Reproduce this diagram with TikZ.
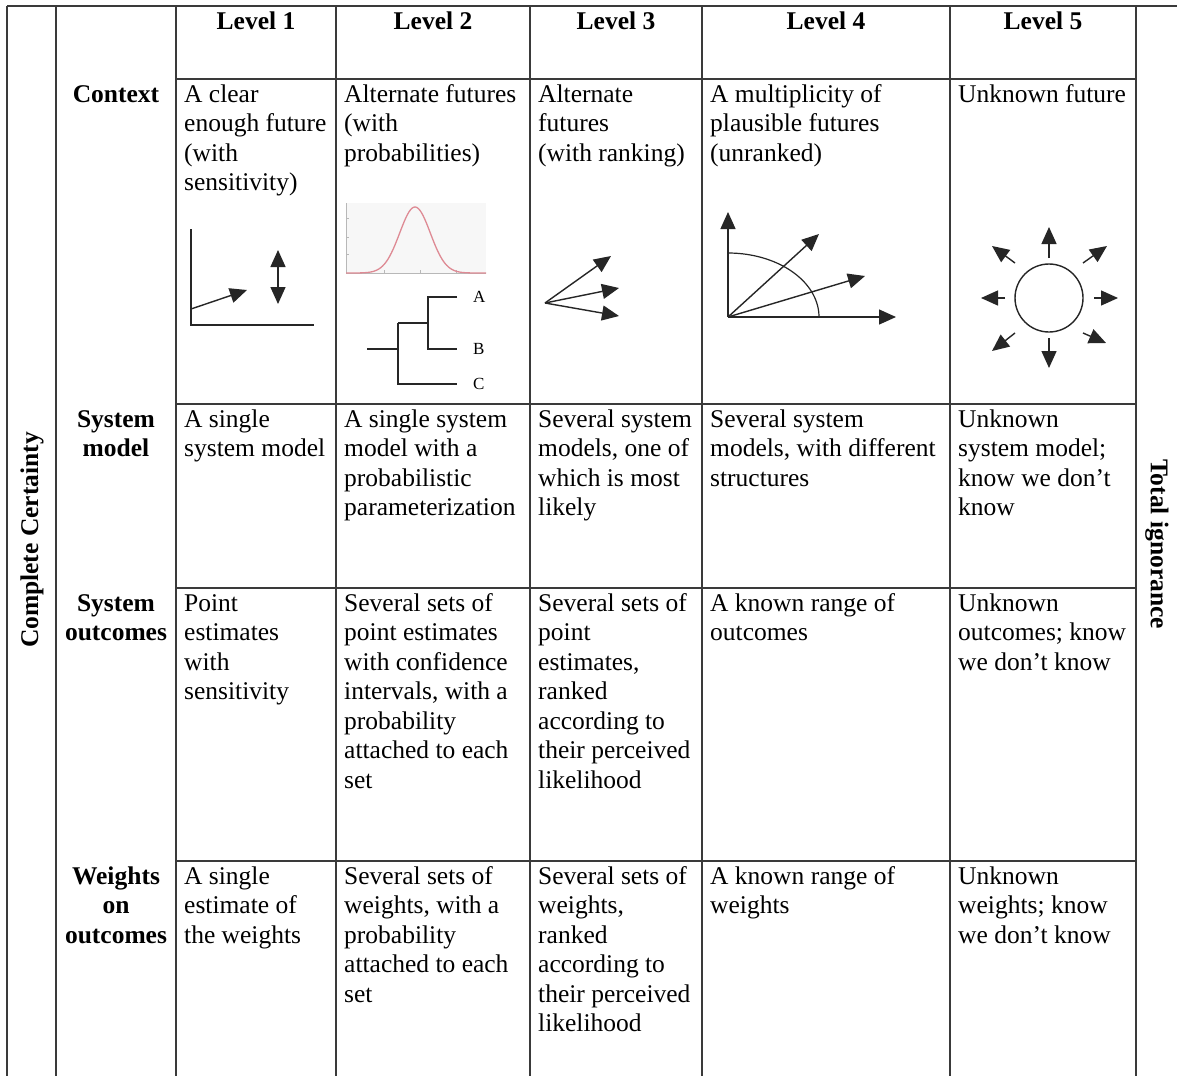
\documentclass[tikz,border=0pt]{standalone}
\usepackage{fontspec}
\setmainfont{Liberation Serif}
\usetikzlibrary{arrows.meta,calc}
\definecolor{rulegray}{HTML}{3A3A3A}
\definecolor{bellred}{HTML}{DE8A94}
\definecolor{plotaxis}{HTML}{B8B8B8}
\definecolor{plotbg}{HTML}{F7F7F7}
\begin{document}
\begin{tikzpicture}[x=1pt,y=-1pt,
  rule/.style={draw=rulegray,line width=1.5pt},
  txt/.style={font=\fontsize{25.5}{29.5}\selectfont},
  head/.style={txt,font=\fontsize{25.5}{29.5}\selectfont\bfseries,anchor=base,inner sep=0pt},
  rowlab/.style={head,align=center,text width=116pt},
  cell/.style={txt,anchor=base west,align=flush left,inner sep=0pt,text width=#1},
  cell/.default=150pt,
  side/.style={font=\fontsize{25.5}{29.5}\selectfont\bfseries,inner sep=0pt},
  icon/.style={draw=black!85,line width=1.4pt},
  arr/.style={icon,-{Triangle[length=17pt,width=15pt]}},
  darr/.style={icon,{Triangle[length=17pt,width=15pt]}-{Triangle[length=17pt,width=15pt]}},
  tree/.style={draw=black!85,line width=1.3pt},
  leaf/.style={font=\fontsize{17}{19}\selectfont,anchor=west,inner sep=0pt}]
\useasboundingbox (0,0) rectangle (1177,1076);
\fill[white] (0,0) rectangle (1177,1076);

% table rules
\draw[rule] (7,6) -- (1177,6);
\foreach \x in {7,56,176,336,530,702,950,1136}
  \draw[rule] (\x,6) -- (\x,1076);
\foreach \y in {79,404,588,861}
  \draw[rule] (176,\y) -- (1136,\y);

% side captions
\node[side,rotate=90] (certain) at (32,540) {Complete Certainty};
\node[side,rotate=-90] (ignorance) at (1157,544) {Total ignorance};

% column heads
\node[head] (lv1) at (256,29) {Level 1};
\node[head] (lv2) at (433,29) {Level 2};
\node[head] (lv3) at (616,29) {Level 3};
\node[head] (lv4) at (826,29) {Level 4};
\node[head] (lv5) at (1043,29) {Level 5};

% row heads
\node[rowlab] (rContext) at (116,102) {Context};
\node[rowlab] (rModel) at (116,427) {System\\model};
\node[rowlab] (rOut) at (116,611) {System\\outcomes};
\node[rowlab] (rWeight) at (116,884) {Weights\\on\\outcomes};

% context row
\node[cell=148pt] (c11) at (184,102) {A clear\\enough future\\(with\\sensitivity)};
\node[cell=182pt] (c12) at (344,102) {Alternate futures\\(with\\probabilities)};
\node[cell=160pt] (c13) at (538,102) {Alternate\\futures\\(with ranking)};
\node[cell=236pt] (c14) at (710,102) {A multiplicity of\\plausible futures\\(unranked)};
\node[cell=176pt] (c15) at (958,102) {Unknown future};

% system model row
\node[cell=148pt] (c21) at (184,427) {A single\\system model};
\node[cell=182pt] (c22) at (344,427) {A single system\\model with a\\probabilistic\\parameterization};
\node[cell=160pt] (c23) at (538,427) {Several system\\models, one of\\which is most\\likely};
\node[cell=236pt] (c24) at (710,427) {Several system\\models, with different\\structures};
\node[cell=176pt] (c25) at (958,427) {Unknown\\system model;\\know we don’t\\know};

% system outcomes row
\node[cell=148pt] (c31) at (184,611) {Point\\estimates\\with\\sensitivity};
\node[cell=182pt] (c32) at (344,611) {Several sets of\\point estimates\\with confidence\\intervals, with a\\probability\\attached to each\\set};
\node[cell=160pt] (c33) at (538,611) {Several sets of\\point\\estimates,\\ranked\\according to\\their perceived\\likelihood};
\node[cell=236pt] (c34) at (710,611) {A known range of\\outcomes};
\node[cell=176pt] (c35) at (958,611) {Unknown\\outcomes; know\\we don’t know};

% weights row
\node[cell=148pt] (c41) at (184,884) {A single\\estimate of\\the weights};
\node[cell=182pt] (c42) at (344,884) {Several sets of\\weights, with a\\probability\\attached to each\\set};
\node[cell=160pt] (c43) at (538,884) {Several sets of\\weights,\\ranked\\according to\\their perceived\\likelihood};
\node[cell=236pt] (c44) at (710,884) {A known range of\\weights};
\node[cell=176pt] (c45) at (958,884) {Unknown\\weights; know\\we don’t know};

% level 1: trend with sensitivity
\coordinate (a1o) at (191,229);
\coordinate (a1c) at (191,325);
\coordinate (a1x) at (314,325);
\draw[icon] (a1o) -- (a1c) -- (a1x);
\coordinate (t1s) at (191,309);
\coordinate (t1e) at (247,290);
\draw[arr] (t1s) -- (t1e);
\coordinate (s1t) at (278,250);
\coordinate (s1b) at (278,304);
\draw[darr] (s1b) -- (s1t);

% level 2: probability curve
\fill[plotbg] (346,203) rectangle (486,273);
\draw[plotaxis,line width=0.9pt] (346,203) -- (346,273) -- (486,273);
\foreach \ty in {218,237,254} \draw[plotaxis,line width=0.6pt] (346,\ty) -- (349,\ty);
\foreach \tx in {384,420,456} \draw[plotaxis,line width=0.6pt] (\tx,273) -- (\tx,270);
\draw[bellred,line width=1.3pt] plot[domain=346:486,samples=90,smooth]
  (\x,{273-66*exp(-((\x-415)*(\x-415))/468)});

% level 2: scenario tree
\coordinate (tr0) at (367,349);
\coordinate (tr1) at (398,349);
\coordinate (tr1u) at (398,323);
\coordinate (tr1d) at (398,384);
\coordinate (tr2) at (428,323);
\coordinate (tr2u) at (428,297);
\coordinate (tr2d) at (428,349);
\coordinate (eA) at (457,297);
\coordinate (eB) at (457,349);
\coordinate (eC) at (457,384);
\node[leaf] (lA) at (473,297) {A};
\node[leaf] (lB) at (473,349) {B};
\node[leaf] (lC) at (473,384) {C};
\draw[tree] (tr0) -- (tr1);
\draw[tree] (tr1u) -- (tr1d) -- (eC);
\draw[tree] (tr1u) -- (tr2);
\draw[tree] (eA) -- (tr2u) -- (tr2d) -- (eB);

% level 3: ranked futures
\coordinate (f3o) at (545,303);
\coordinate (f3a) at (611,256);
\coordinate (f3b) at (619,288);
\coordinate (f3c) at (619,316);
\draw[arr] (f3o) -- (f3a);
\draw[arr] (f3o) -- (f3b);
\draw[arr] (f3o) -- (f3c);

% level 4: unranked futures
\coordinate (f4o) at (728,317);
\coordinate (f4u) at (728,212);
\coordinate (f4r) at (896,317);
\coordinate (f4a) at (819,234);
\coordinate (f4b) at (865,276);
\draw[arr] (f4o) -- (f4u);
\draw[arr] (f4o) -- (f4r);
\draw[arr] (f4o) -- (f4a);
\draw[arr] (f4o) -- (f4b);
\draw[icon,line width=1.2pt] plot[domain=0:90,samples=40,smooth]
  ({728+91*cos(\x)},{317-64*sin(\x)});

% level 5: unknown future
\node[draw=black!85,line width=1.4pt,circle,minimum size=68pt,inner sep=0pt] (sun) at (1049,298) {};
\foreach \sx/\sy/\ex/\ey in {1049/258/1049/227, 1049/338/1049/368,
    1005/298/981/298, 1094/298/1118/298,
    1015/263/992/246, 1083/263/1107/246,
    1015/333/992/351, 1083/333/1106/343}
  \draw[arr] (\sx,\sy) -- (\ex,\ey);
\end{tikzpicture}
\end{document}
